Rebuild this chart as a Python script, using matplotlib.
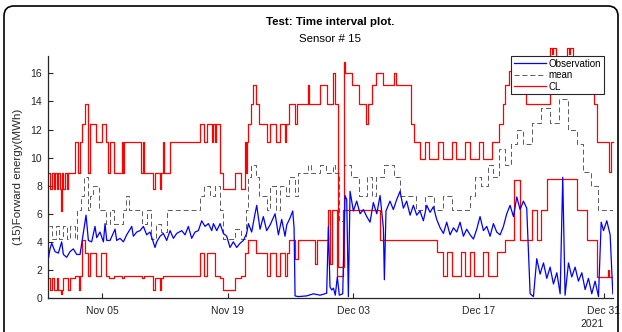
import numpy as np
import pandas as pd
import matplotlib
matplotlib.use("Agg")
import matplotlib.pyplot as plt
import matplotlib.dates as mdates
from matplotlib.patches import FancyBboxPatch
from matplotlib.transforms import IdentityTransform

# ---------------- data (day offsets from 2021-10-30 00:00) ----------------
start = pd.Timestamp("2021-10-30")

obs_days = [0.0, 0.16, 0.35, 0.72, 1.09, 1.46, 1.65, 2.02, 2.39, 2.76, 3.14, 3.51, 3.70, 4.18, 4.44,
            4.81, 5.18, 5.37, 5.74, 6.12, 6.30, 6.49, 6.86, 7.42, 7.60, 7.97, 8.35, 8.72, 9.28, 9.46,
            9.84, 10.21, 10.58, 10.95, 11.32, 11.88, 12.07, 12.44, 12.81, 13.18, 13.56, 13.93, 14.30,
            14.86, 15.23, 15.60, 15.97, 16.35, 16.72, 17.09, 17.46, 17.84, 18.21, 18.40, 18.77, 19.14,
            19.51, 19.88, 20.25, 20.62, 21.00, 21.37, 21.74, 22.11, 22.30, 22.67, 23.04, 23.23, 23.60,
            23.97, 24.34, 24.72, 25.28, 25.65, 26.02, 26.39, 26.58, 26.95, 27.25, 27.40, 27.51, 27.88,
            28.81, 29.56, 30.30, 31.04, 31.23, 31.41, 31.60, 31.80, 32.00, 32.23, 32.45, 32.83, 33.09,
            33.28, 33.46, 33.65, 34.02, 34.39, 34.77, 35.14, 35.51, 35.88, 36.25, 36.63, 37.00, 37.37,
            37.48, 37.66, 38.11, 38.48, 38.85, 39.23, 39.60, 39.97, 40.35, 40.72, 41.09, 41.46, 41.83,
            42.21, 42.58, 42.95, 43.32, 43.70, 44.07, 44.44, 44.81, 45.19, 45.56, 45.93, 46.30, 46.67,
            47.05, 47.42, 47.79, 48.16, 48.54, 48.91, 49.28, 49.65, 50.02, 50.40, 50.77, 51.14, 51.51,
            51.89, 52.26, 52.63, 53.00, 53.37, 53.75, 54.12, 54.49, 54.86, 55.24, 55.61, 55.98, 56.35,
            56.73, 57.10, 57.39, 57.65, 58.03, 58.40, 58.77, 59.14, 59.52, 59.89, 60.26, 60.63, 61.00,
            61.38, 61.68, 61.94, 62.31, 62.68, 62.98]
obs_vals = [2.9, 3.5, 3.9, 3.3, 3.2, 4.0, 3.1, 2.9, 3.3, 3.5, 3.1, 3.1, 3.9, 5.9, 4.1,
            4.0, 5.1, 4.3, 4.7, 4.0, 5.3, 4.1, 4.1, 4.9, 4.1, 4.25, 4.0, 4.5, 5.1, 4.4,
            4.7, 4.8, 5.1, 4.5, 4.7, 3.6, 4.0, 4.4, 4.6, 4.1, 4.8, 4.25, 4.6,
            4.8, 4.5, 5.1, 4.25, 4.7, 4.8, 5.5, 5.1, 5.3, 4.8, 5.3, 4.8, 5.3,
            4.6, 4.4, 3.6, 4.0, 3.6, 3.9, 4.1, 4.6, 5.3, 4.7, 6.0, 6.6, 4.9,
            5.8, 4.8, 5.2, 6.0, 4.5, 5.6, 4.4, 5.2, 5.7, 6.2, 5.0, 0.15, 0.1,
            0.15, 0.3, 0.2, 0.34, 5.08, 0.8, 0.57, 0.7, 0.2, 1.5, 0.2, 0.3, 7.3,
            7.0, 0.1, 7.6, 6.2, 6.9, 6.0, 6.3, 5.8, 5.4, 6.8, 6.0, 7.3, 5.0,
            1.3, 6.2, 6.9, 6.3, 7.0, 7.6, 6.4, 6.9, 5.9, 6.6, 5.9, 6.2, 5.5,
            6.6, 6.1, 6.5, 5.6, 5.0, 4.6, 5.4, 4.5, 5.0, 4.7, 5.4, 4.4, 4.9,
            4.5, 4.2, 4.9, 5.8, 4.8, 5.1, 4.4, 5.3, 4.7, 4.5, 5.1, 6.0, 6.6,
            5.8, 7.2, 6.3, 6.9, 6.4, 0.3, 0.1, 2.8, 1.7, 2.5, 1.4, 2.2, 1.0,
            1.8, 0.3, 8.6, 0.2, 2.5, 1.5, 2.2, 1.2, 1.8, 0.6, 1.4, 0.3, 1.2,
            0.1, 5.4, 4.8, 5.5, 4.5, 0.3]

mean_days = [0.0, 0.4, 0.8, 1.2, 1.6, 2.0, 2.4, 2.9, 3.2, 3.6, 4.0, 4.4, 4.6, 5.0, 5.6, 6.4, 6.8,
             7.3, 8.3, 8.6, 9.0, 10.4, 11.0, 11.4, 12.0, 12.6, 13.2, 16.9, 17.4, 18.0, 18.6, 19.1,
             19.5, 20.8, 21.5, 22.0, 22.3, 22.6, 23.2, 23.5, 24.4, 24.7, 25.4, 25.8, 26.5, 26.8,
             27.5, 27.8, 29.0, 29.3, 30.3, 31.0, 31.7, 32.0, 32.4, 33.0, 33.8, 34.6, 35.5, 36.1,
             36.6, 37.4, 38.6, 39.2, 40.4, 41.0, 42.0, 43.0, 44.0, 45.0, 46.0, 47.0, 47.6, 48.3,
             49.0, 49.6, 50.3, 51.0, 51.6, 52.3, 53.0, 54.0, 55.0, 56.0, 57.0, 58.0, 59.0, 59.7,
             60.5, 61.3]
mean_vals = [5.1, 4.2, 5.1, 4.2, 5.1, 4.2, 5.1, 4.2, 6.3, 7.3, 8.6, 6.3, 7.3, 8.0, 6.3, 5.3, 6.3,
             5.3, 6.3, 7.3, 6.3, 5.3, 6.3, 4.2, 5.3, 4.7, 6.3, 7.3, 8.0, 7.3, 8.0, 6.3,
             4.2, 4.9, 4.2, 6.3, 8.6, 9.5, 8.6, 7.3, 6.3, 8.0, 6.3, 8.0, 7.3, 8.6,
             7.3, 8.9, 9.5, 8.9, 9.5, 8.9, 9.5, 8.9, 5.5, 9.5, 8.6, 7.3, 8.6, 7.3,
             8.6, 9.5, 8.6, 7.3, 7.3, 6.3, 7.3, 6.3, 7.3, 6.3, 6.3, 7.3, 8.6, 8.0,
             9.5, 8.6, 10.6, 9.5, 11.0, 12.0, 11.0, 12.5, 13.5, 12.5, 14.2, 12.0, 11.0, 9.0,
             8.0, 6.3]

upper_days = [0.0, 0.2, 0.35, 0.55, 0.75, 0.9, 1.1, 1.3, 1.38, 1.45, 1.5, 1.65, 1.85, 2.0, 2.2,
              2.95, 3.3, 3.5, 3.75, 4.05, 4.35, 4.6, 5.3, 5.95, 6.4, 6.65, 6.85, 7.25, 8.15, 8.3,
              8.4, 10.35, 10.5, 10.65, 11.6, 11.85, 12.4, 12.6, 12.75, 12.85, 13.5, 16.9, 17.35,
              17.65, 18.2, 18.35, 18.6, 18.7, 19.1, 19.5, 20.8, 21.5, 21.9, 22.05, 22.1, 22.3,
              22.55, 22.85, 23.2, 23.5, 24.35, 24.7, 25.4, 25.85, 26.4, 26.5, 26.8, 27.45, 27.75,
              28.95, 29.05, 30.25, 31.05, 31.7, 31.95, 32.35, 33.0, 33.1, 33.85, 34.6, 35.45,
              35.6, 36.05, 36.6, 37.35, 38.6, 38.8, 40.4, 40.8, 41.5, 42.0, 42.5, 43.5, 44.0,
              45.0, 45.5, 46.5, 47.0, 48.0, 48.5, 49.5, 50.3, 50.7, 51.0, 51.4, 52.2, 53.3,
              55.95, 56.2, 56.35, 56.6, 57.9, 58.1, 58.25, 58.5, 60.9, 61.2, 62.5, 62.75]
upper_vals = [8.9, 7.8, 8.9, 7.8, 8.9, 7.8, 8.9, 7.8, 6.2, 7.8, 8.9, 7.8, 8.9, 7.8, 8.9,
              11.1, 8.9, 11.1, 12.4, 13.8, 8.9, 12.4, 11.1, 12.4, 11.1, 8.9, 11.1, 8.9, 11.1, 8.9,
              11.1, 8.9, 11.1, 8.9, 7.8, 8.9, 7.8, 8.9, 11.1, 8.9, 11.1, 12.4, 11.1,
              12.4, 11.1, 12.4, 11.1, 12.4, 8.9, 7.8, 8.9, 7.8, 11.1, 8.9, 11.1, 12.4,
              13.8, 15.2, 13.8, 12.4, 11.1, 12.4, 11.1, 12.4, 11.1, 12.4, 13.8, 12.4, 13.8,
              15.2, 13.8, 15.2, 13.8, 16.0, 13.8, 2.2, 16.8, 16.0, 15.2, 13.8, 12.4,
              13.8, 15.2, 16.0, 15.2, 16.0, 15.2, 12.4, 11.1, 9.9, 11.1, 9.9, 11.1, 9.9,
              11.1, 9.9, 11.1, 9.9, 11.1, 9.9, 11.1, 12.4, 13.8, 15.2, 16.2, 15.2, 13.8,
              17.8, 17.4, 17.8, 15.2, 17.8, 17.4, 17.8, 15.2, 13.8, 11.1, 9.0, 11.1]

lower_days = [0.0, 0.2, 0.4, 0.6, 0.9, 1.1, 1.38, 1.45, 1.6, 2.0, 2.2, 2.4, 3.0, 3.4, 3.5, 3.7, 4.1,
              4.4, 4.6, 5.3, 5.9, 6.4, 6.7, 7.3, 8.2, 8.4, 10.4, 10.7, 11.6, 11.9, 12.4, 12.6,
              12.8, 16.9, 17.4, 17.7, 18.6, 19.1, 19.5, 20.8, 21.5, 21.9, 22.3, 23.2, 24.4,
              24.7, 25.4, 25.8, 26.4, 26.6, 26.8, 27.5, 27.8, 29.7, 30.0, 31.2, 31.4, 31.6,
              32.2, 32.9, 37.0, 43.4, 44.0, 44.5, 45.0, 46.0, 46.5, 47.0, 47.5, 48.5, 49.0,
              50.0, 51.0, 52.0, 52.6, 54.0, 54.5, 55.0, 55.6, 59.0, 60.1, 61.2, 62.4, 62.6]
lower_vals = [1.4, 0.6, 1.4, 0.6, 1.4, 0.6, 0.25, 0.6, 1.4, 1.4, 0.6, 1.4, 1.6, 0.6, 1.6, 4.1, 3.2,
              1.6, 3.2, 1.6, 3.2, 1.6, 1.4, 1.6, 1.4, 1.6, 1.4, 1.6, 0.6, 1.4, 0.6, 1.4,
              1.6, 3.2, 1.6, 3.2, 1.6, 1.4, 0.6, 1.4, 1.6, 3.2, 4.1, 3.2, 1.6,
              3.2, 1.6, 3.2, 1.6, 3.2, 4.1, 2.8, 4.1, 2.4, 4.1, 6.3, 2.4, 6.3,
              1.6, 6.3, 4.1, 3.3, 1.6, 3.3, 1.6, 3.3, 1.6, 3.3, 1.6, 3.3, 1.6,
              3.3, 4.1, 8.4, 4.1, 6.3, 4.1, 6.3, 8.5, 6.3, 4.1, 1.5, 2.0, 1.5]

x_ticks = ["2021-11-05", "2021-11-19", "2021-12-03", "2021-12-17", "2021-12-31"]
y_ticks = [0, 2, 4, 6, 8, 10, 12, 14, 16]
legend_labels = ["Observation", "mean", "CL"]
title_text = "Test: Time interval plot."
subtitle_text = "Sensor # 15"
ylabel_text = "(15)Forward energy(MWh)"
year_text = "2021"

# ---------------- plotting ----------------
plt.rcParams['font.family'] = ['Liberation Sans', 'DejaVu Sans']

def to_dates(days):
    return start + pd.to_timedelta(np.asarray(days), unit="D")

def step_xy(days, vals, end):
    d = list(days) + [end]
    v = list(vals) + [vals[-1]]
    return to_dates(d), v

fig = plt.figure(figsize=(6.22, 3.32), dpi=100)
W, H = 622, 332
ax = fig.add_axes([47.7 / W, 1 - 298 / H, (613 - 47.7) / W, (298 - 55.7) / H])

end_day = 63.0
ux, uy = step_xy(upper_days, upper_vals, end_day)
lx, ly = step_xy(lower_days, lower_vals, end_day)
mx, my = step_xy(mean_days, mean_vals, end_day)

l_obs, = ax.plot(to_dates(obs_days), obs_vals, color="#0000FF", lw=0.9, label=legend_labels[0], zorder=3)
l_mean, = ax.step(mx, my, where="post", color="#404040", lw=0.6, dashes=(6, 3.5), label=legend_labels[1], zorder=2)
l_cl, = ax.step(ux, uy, where="post", color="#FF0000", lw=0.9, label=legend_labels[2], zorder=2,
                clip_on=False)
ax.step(lx, ly, where="post", color="#FF0000", lw=0.9, zorder=2)

ax.set_xlim(start + pd.Timedelta(days=-0.1), start + pd.Timedelta(days=end_day))
ax.set_ylim(0, 17.26)
ax.set_yticks(y_ticks)
ax.set_xticks(pd.to_datetime(x_ticks))
ax.xaxis.set_major_formatter(mdates.DateFormatter("%b %d"))
ax.tick_params(direction="in", length=3.5, width=0.8, labelsize=7.5, colors="#262626", pad=4)
ax.tick_params(axis="x", pad=6)
for s in ["top", "right"]:
    ax.spines[s].set_visible(False)
for s in ["left", "bottom"]:
    ax.spines[s].set_linewidth(0.9)
    ax.spines[s].set_color("#262626")

ax.set_ylabel(ylabel_text, fontsize=8.25, color="#262626", va="center")
ax.yaxis.set_label_coords((18 - 47.7) / (613 - 47.7), 0.5)
ax.text(0.5, 1.14, title_text, transform=ax.transAxes, ha="center", va="center",
        fontsize=8.25, fontweight="bold", color="#000000")
ax.text(0.5, 1.07, subtitle_text, transform=ax.transAxes, ha="center", va="center",
        fontsize=8.25, color="#000000")
fig.text(592 / W, 1 - 324 / H, year_text, ha="center", va="center", fontsize=7.5, color="#262626")

leg = ax.legend(handles=[l_obs, l_mean, l_cl], loc="upper right", bbox_to_anchor=(0.984, 1.0),
                fontsize=7, frameon=True, fancybox=False, edgecolor="#262626", framealpha=1,
                borderpad=0.3, labelspacing=0.15, handlelength=3.3, handletextpad=0.3,
                borderaxespad=0)
leg.get_frame().set_linewidth(0.8)
leg.set_zorder(5)

frame = FancyBboxPatch((4, -30), 614, 356, boxstyle="round,pad=0,rounding_size=10",
                       transform=IdentityTransform(), fill=False, edgecolor="#000000", lw=1.2)
fig.add_artist(frame)

fig.savefig("out.png", dpi=100)
